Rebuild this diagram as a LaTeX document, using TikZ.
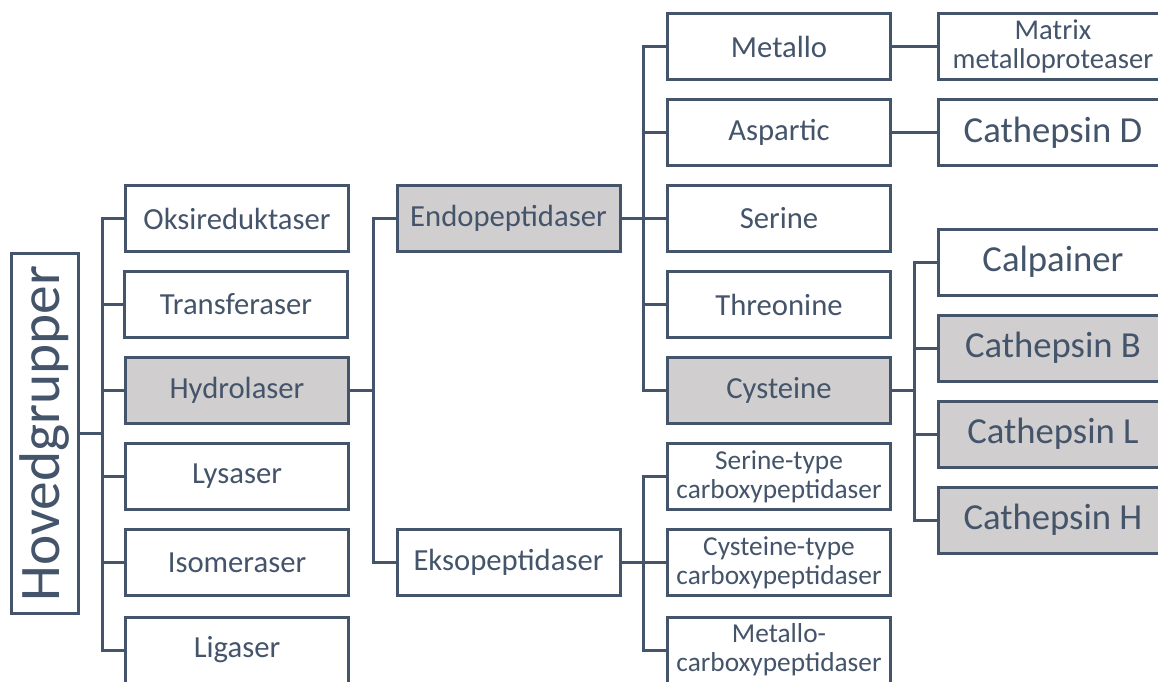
\documentclass[tikz,border=0pt]{standalone}
\usepackage{fontspec}
\setmainfont{Carlito}
\usepackage{tikz}
\definecolor{slate}{HTML}{44546A}
\definecolor{boxgray}{HTML}{D0CECE}
\tikzset{
  box/.style={draw=slate, line width=2.25pt, text=slate, fill=white,
    minimum width=167.25pt, minimum height=49.5pt, inner sep=0pt,
    align=center, font=\fontsize{23}{26}\selectfont},
  hl/.style={box, fill=boxgray},
  wide/.style={minimum width=172pt},
  big/.style={font=\fontsize{27.5}{30}\selectfont},
  small/.style={font=\fontsize{20.5}{21.5}\selectfont},
  link/.style={draw=slate, line width=2.25pt}
}

\begin{document}
\begin{tikzpicture}[x=0.75pt,y=-0.75pt]

        \useasboundingbox (0,0) rectangle (1158,682);

        \node[box, minimum width=50pt, minimum height=270pt,
          font=\fontsize{43}{46}\selectfont] (hov) at (45,433.5) {\rotatebox{90}{Hovedgrupper}};

        \node[box] (oks)   at (237,218.5) {Oksireduktaser};
        \node[box] (trans) at (236,304.5) {Transferaser};
        \node[hl]  (hyd)   at (237,390.5) {Hydrolaser};
        \node[box] (lys)   at (237,476.5) {Lysaser};
        \node[box] (iso)   at (237,562.5) {Isomeraser};
        \node[box] (lig)   at (237,650)   {Ligaser};

        \node[hl]  (endo)  at (508.5,218.5) {Endopeptidaser};
        \node[box] (ekso)  at (508.5,562.5) {Eksopeptidaser};

        \node[box] (met)   at (779,46.5)  {Metallo};
        \node[box] (asp)   at (779,132.5) {Aspartic};
        \node[box] (ser)   at (779,218.5) {Serine};
        \node[box] (thr)   at (779,304.5) {Threonine};
        \node[hl]  (cys)   at (779,390.5) {Cysteine};

        \node[box, small] (sct) at (779,476.5) {Serine-type\\carboxypeptidaser};
        \node[box, small] (cct) at (779,562.5) {Cysteine-type\\carboxypeptidaser};
        \node[box, small] (mct) at (779,650)   {Metallo-\\carboxypeptidaser};

        \node[box, wide, font=\fontsize{21.5}{22}\selectfont] (mmp) at (1053,46.5) {Matrix\\metalloproteaser};
        \node[box, wide, big] (catD) at (1053,132.5) {Cathepsin D};
        \node[box, wide, big] (calp) at (1053,262)   {Calpainer};
        \node[hl, wide, big]  (catB) at (1053,348)   {Cathepsin B};
        \node[hl, wide, big]  (catL) at (1053,434)   {Cathepsin L};
        \node[hl, wide, big]  (catH) at (1053,520)   {Cathepsin H};

        \coordinate (t_1) at (102,433.5);
        \coordinate (t_2) at (373,390.5);
        \coordinate (t_3) at (643,218.5);
        \coordinate (t_4) at (914,390.5);
        \coordinate (t_5) at (643,562.5);

        \draw[link] (hov.east) -- (t_1);
        \foreach \n in {oks,trans,hyd,lys,iso,lig}
          \draw[link] (t_1) |- (\n.west);

        \draw[link] (hyd.east) -- (t_2);
        \foreach \n in {endo,ekso}
          \draw[link] (t_2) |- (\n.west);

        \draw[link] (endo.east) -- (t_3);
        \foreach \n in {met,asp,ser,thr,cys}
          \draw[link] (t_3) |- (\n.west);

        \draw[link] (ekso.east) -- (t_5);
        \foreach \n in {sct,cct,mct}
          \draw[link] (t_5) |- (\n.west);

        \draw[link] (cys.east) -- (t_4);
        \foreach \n in {calp,catB,catL,catH}
          \draw[link] (t_4) |- (\n.west);

        \draw[link] (met.east) -- (mmp.west);
        \draw[link] (asp.east) -- (catD.west);

    \end{tikzpicture}
\end{document}
